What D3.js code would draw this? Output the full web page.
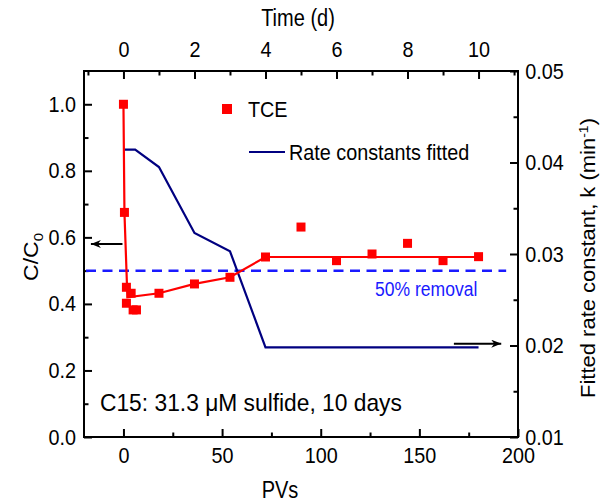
<!DOCTYPE html>
<html>
<head>
<meta charset="utf-8">
<script src="https://cdn.jsdelivr.net/npm/d3@7.9.0/dist/d3.min.js"></script>
<style>
  body { margin: 0; background: #fff; }
  svg text { font-family: Arial, "Liberation Sans", sans-serif; }
</style>
</head>
<body>
<svg id="chart" width="604" height="502"></svg>
<script>
// TCE measurements (PVs, C/C0)
const tcePV = [0, 0.5, 1.5, 3.9, 1.5, 4.9, 6.6, 18, 36, 54, 72, 90, 108, 126, 144, 162, 180];
const tceC = [1.0, 0.675, 0.45, 0.432, 0.402, 0.382, 0.382, 0.432, 0.46, 0.48, 0.541, 0.631, 0.53, 0.55, 0.582, 0.53, 0.542];

// red line through the TCE data
const fitPV = [0, 0.5, 2, 18, 36, 54, 72, 180];
const fitC = [1.0, 0.675, 0.42, 0.432, 0.46, 0.48, 0.541, 0.541];

// rate constants fitted (time in days, k in 1/min)
const rateDay = [0, 0.33, 1, 2, 3, 4, 10];
const rateK = [0.0414, 0.0414, 0.0395, 0.0323, 0.0303, 0.0198, 0.0198];

const removalLevel = 0.5;

const pvTicks = [0, 50, 100, 150, 200];
const pvMinor = [25, 75, 125, 175];
const dayTicks = [0, 2, 4, 6, 8, 10];
const dayMinor = [-1, 1, 3, 5, 7, 9, 11];
const cTicks = [0, 0.2, 0.4, 0.6, 0.8, 1.0];
const cMinor = [0.1, 0.3, 0.5, 0.7, 0.9];
const kTicks = [0.01, 0.02, 0.03, 0.04, 0.05];
const kMinor = [0.015, 0.025, 0.035, 0.045];

const plotLeft = 84, plotRight = 518, plotTop = 71, plotBottom = 437;
const squeeze = 0.9; // the figure's lettering is a little narrow

let x = d3.scaleLinear().domain([-20, 200]).range([plotLeft, plotRight]);
let xTop = d3.scaleLinear().domain([-20 / 18, 200 / 18]).range([plotLeft, plotRight]);
let yL = d3.scaleLinear().domain([0, 1.1]).range([plotBottom, plotTop]);
let yR = d3.scaleLinear().domain([0.01, 0.05]).range([plotBottom, plotTop]);

let svg = d3.select('#chart');

function drawAxis(axisFn, scale, major, minor, fmt, transform, pad) {
  let g = svg.append('g').attr('transform', transform);
  g.call(axisFn(scale).tickValues(major).tickSizeInner(-8).tickSizeOuter(0).tickPadding(pad).tickFormat(fmt));
  g.append('g').call(axisFn(scale).tickValues(minor).tickSizeInner(-4.5).tickSizeOuter(0).tickFormat(''));
  g.selectAll('.domain').remove();
  g.selectAll('line').attr('stroke', '#000').attr('stroke-width', 2);
  g.selectAll('text')
    .attr('font-size', 22).attr('fill', '#000')
    .attr('transform', `scale(${squeeze},1)`);
  return g;
}

drawAxis(d3.axisBottom, x, pvTicks, pvMinor, d3.format('d'), `translate(0,${plotBottom})`, 10);
drawAxis(d3.axisTop, xTop, dayTicks, dayMinor, d3.format('d'), `translate(0,${plotTop})`, 14);
drawAxis(d3.axisLeft, yL, cTicks, cMinor, d3.format('.1f'), `translate(${plotLeft},0)`, 9);
drawAxis(d3.axisRight, yR, kTicks, kMinor, d3.format('.2f'), `translate(${plotRight},0)`, 8);

svg.append('rect')
  .attr('x', plotLeft).attr('y', plotTop)
  .attr('width', plotRight - plotLeft).attr('height', plotBottom - plotTop)
  .attr('fill', 'none').attr('stroke', '#000').attr('stroke-width', 2);

function label(px, py, str, size, anchor, sx) {
  return svg.append('text')
    .attr('transform', `translate(${px},${py}) scale(${sx},1)`)
    .attr('font-size', size).attr('text-anchor', anchor)
    .text(str);
}

// 50% removal reference
svg.append('line')
  .attr('x1', x(-20) + 2).attr('x2', x(194))
  .attr('y1', yL(removalLevel)).attr('y2', yL(removalLevel))
  .attr('stroke', '#1a1aff').attr('stroke-width', 2.5)
  .attr('stroke-dasharray', '10,6.5');

label(x(127.5), yL(removalLevel) + 25, '50% removal', 19.5, 'start', squeeze)
  .attr('fill', '#1a1aff');

// rate constants line
let rateLine = d3.line().x((d, i) => xTop(rateDay[i])).y((d) => yR(d));
svg.append('path')
  .attr('d', rateLine(rateK))
  .attr('fill', 'none').attr('stroke', '#000080').attr('stroke-width', 2.2);

// TCE line and points
let fitLine = d3.line().x((d, i) => x(fitPV[i])).y((d) => yL(d));
svg.append('path')
  .attr('d', fitLine(fitC))
  .attr('fill', 'none').attr('stroke', '#ff0000').attr('stroke-width', 2.2);

const sq = 9;
svg.selectAll('rect.tce')
  .data(tceC)
  .join('rect')
  .attr('class', 'tce')
  .attr('x', (d, i) => x(tcePV[i]) - sq / 2)
  .attr('y', (d) => yL(d) - sq / 2)
  .attr('width', sq).attr('height', sq)
  .attr('fill', '#ff0000');

// arrows pointing to each axis
svg.append('defs').append('marker')
  .attr('id', 'head')
  .attr('viewBox', '0 0 10 8')
  .attr('refX', 10).attr('refY', 4)
  .attr('markerWidth', 10).attr('markerHeight', 8)
  .attr('markerUnits', 'userSpaceOnUse')
  .attr('orient', 'auto')
  .append('path').attr('d', 'M0,0L10,4L0,8L3,4Z').attr('fill', '#000');

svg.append('line')
  .attr('x1', x(-0.5)).attr('x2', x(-16.5))
  .attr('y1', yL(0.58)).attr('y2', yL(0.58))
  .attr('stroke', '#000').attr('stroke-width', 2)
  .attr('marker-end', 'url(#head)');

svg.append('line')
  .attr('x1', x(167.5)).attr('x2', x(191.5))
  .attr('y1', yR(0.0202)).attr('y2', yR(0.0202))
  .attr('stroke', '#000').attr('stroke-width', 2)
  .attr('marker-end', 'url(#head)');

// legend
svg.append('rect')
  .attr('x', 222).attr('y', 104).attr('width', 10).attr('height', 10)
  .attr('fill', '#ff0000');
label(248, 117, 'TCE', 22, 'start', squeeze);
svg.append('line')
  .attr('x1', 249).attr('x2', 285).attr('y1', 152).attr('y2', 152)
  .attr('stroke', '#000080').attr('stroke-width', 2.2);
label(289, 160, 'Rate constants fitted', 22, 'start', squeeze);

// annotation
label(100, 411, 'C15: 31.3 \u03bcM sulfide, 10 days', 24, 'start', 0.95);

// axis titles
label(298, 26, 'Time (d)', 23, 'middle', 0.87);
label(280, 498, 'PVs', 23, 'middle', 0.87);

let yTitle = svg.append('text')
  .attr('transform', `translate(38,257) scale(${squeeze},1) rotate(-90)`)
  .attr('text-anchor', 'middle').attr('font-size', 23);
yTitle.append('tspan').text('C/C');
yTitle.append('tspan').attr('font-size', 15).attr('dy', 5).text('0');

let rTitle = svg.append('text')
  .attr('transform', `translate(595,258) scale(${squeeze},1) rotate(-90)`)
  .attr('text-anchor', 'middle').attr('font-size', 22);
rTitle.append('tspan').text('Fitted rate constant, k (min');
rTitle.append('tspan').attr('font-size', 14).attr('dy', -8).text('-1');
rTitle.append('tspan').attr('dy', 8).text(')');
</script>
</body>
</html>
